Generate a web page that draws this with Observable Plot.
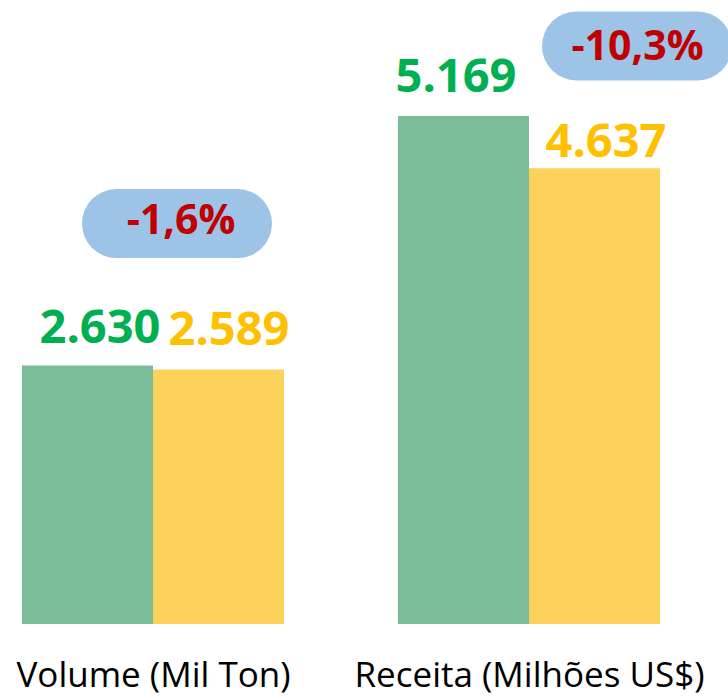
<!DOCTYPE html>
<html>
<head>
<meta charset="utf-8">
<script src="https://cdn.jsdelivr.net/npm/d3@7"></script>
<script src="https://cdn.jsdelivr.net/npm/@observablehq/plot@0.6"></script>
<style>
  html, body { margin: 0; padding: 0; background: #fff; overflow: hidden; }
  #chart svg { display: block; }
</style>
</head>
<body>
<div id="chart"></div>
<script>
// ---- data ----
const categories = ["Volume (Mil Ton)", "Receita (Milhões US$)"];
const seriesNames = ["Anterior", "Atual"];
const valuesAnterior = [2630, 5169];
const valuesAtual = [2589, 4637];
const changeLabels = ["-1,6%", "-10,3%"];

// ---- build table ----
const rows = [];
categories.forEach((c, i) => {
  rows.push({cat: c, series: seriesNames[0], value: valuesAnterior[i]});
  rows.push({cat: c, series: seriesNames[1], value: valuesAtual[i]});
});
const badges = categories.map((c, i) => ({
  cat: c, series: seriesNames[1],
  value: Math.max(valuesAnterior[i], valuesAtual[i]),
  text: changeLabels[i]
}));

const fmt = d3.formatLocale({decimal: ",", thousands: ".", grouping: [3], currency: ["", ""]}).format(",d");

const barColors = ["#7BBD99", "#FDD25B"];
const labelColors = {"Anterior": "#00B050", "Atual": "#FFC000"};
const FONT = "'Open Sans', 'Noto Sans', sans-serif";

// pill-shaped symbol
function pill(w, h) {
  return {
    draw(ctx) {
      const r = h / 2;
      ctx.moveTo(-w / 2 + r, -r);
      ctx.lineTo(w / 2 - r, -r);
      ctx.arc(w / 2 - r, 0, r, -Math.PI / 2, Math.PI / 2);
      ctx.lineTo(-w / 2 + r, r);
      ctx.arc(-w / 2 + r, 0, r, Math.PI / 2, Math.PI * 3 / 2);
      ctx.closePath();
    }
  };
}
const pillShape = pill(190, 69);

// per-label fine offsets (relative to bar top / center)
const labelOffsets = [
  {dx: 12, dy: -23}, {dx: 10, dy: -25},
  {dx: -8, dy: -24}, {dx: 11, dy: -12}
];
const badgeOffsets = [
  {pdx: -42, pdy: -142.5, tdx: -38, tdy: -132},
  {pdx: 42, pdy: -70.5, tdx: 42.5, tdy: -56}
];

const labelMarks = rows.map((r, i) => Plot.text([r], {
  fx: "cat", x: "series", y: "value",
  text: d => fmt(d.value),
  fill: labelColors[r.series],
  fontSize: 47, fontWeight: "bold",
  lineAnchor: "bottom",
  dx: labelOffsets[i].dx, dy: labelOffsets[i].dy
}));

const badgeMarks = badges.flatMap((b, i) => [
  Plot.dot([b], {
    fx: "cat", x: "series", y: "value",
    symbol: pillShape, r: 5,
    fill: "#9DC3E6", stroke: "none",
    dx: badgeOffsets[i].pdx, dy: badgeOffsets[i].pdy
  }),
  Plot.text([b], {
    fx: "cat", x: "series", y: "value",
    text: "text",
    fill: "#C00000", fontSize: 41, fontWeight: "bold",
    lineAnchor: "bottom",
    dx: badgeOffsets[i].tdx, dy: badgeOffsets[i].tdy
  })
]);

const chart = Plot.plot({
  width: 728,
  height: 698,
  marginTop: 0,
  marginBottom: 74,
  marginLeft: 21,
  marginRight: 67,
  style: {fontFamily: FONT, background: "#fff", overflow: "hidden"},
  fx: {domain: categories, paddingInner: 0.302, paddingOuter: 0, label: null},
  x: {domain: seriesNames, padding: 0, axis: null},
  y: {domain: [0, 6349], axis: null},
  color: {domain: seriesNames, range: barColors},
  marks: [
    Plot.barY(rows, {fx: "cat", x: "series", y: "value", fill: "series", inset: 0}),
    ...labelMarks,
    ...badgeMarks,
    Plot.axisFx({anchor: "bottom", tickSize: 0, tickPadding: 38, fontSize: 35, label: null, fill: "#000", fontFamily: FONT})
  ]
});

document.getElementById("chart").appendChild(chart);
</script>
</body>
</html>
